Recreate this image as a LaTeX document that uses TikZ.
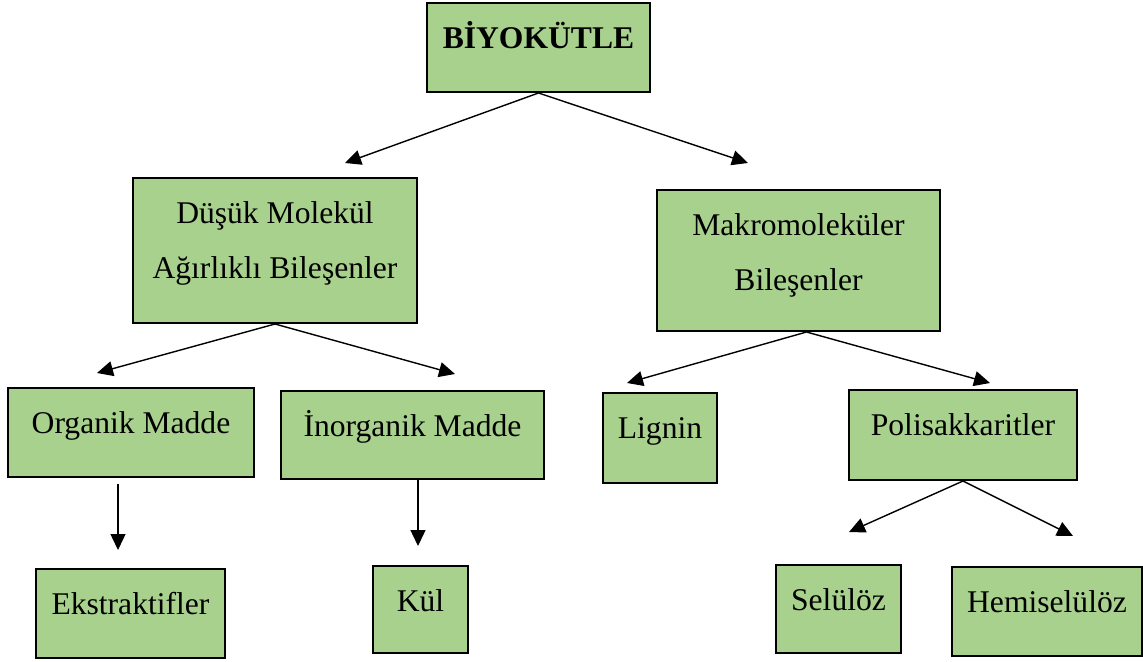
\documentclass[tikz,border=0pt]{standalone}
\usepackage{fontspec}
\setmainfont{Liberation Serif}
\usetikzlibrary{arrows.meta}
\definecolor{boxGreen}{HTML}{A9D18E}
\newcommand{\capstrut}{\rule{0pt}{15pt}}

\begin{document}
\begin{tikzpicture}[x=0.5pt,y=-0.5pt,
  kutu/.style={rectangle,draw=black,fill=boxGreen,line width=1pt,inner sep=0pt},
  yazi/.style={anchor=north,inner sep=0pt,align=center,yshift=-8pt,
    font=\fontsize{15.8}{27.5}\selectfont},
  ok/.style={draw=black,line width=0.7pt,-{Triangle[length=8pt,width=7.5pt]}}]
  \useasboundingbox (0,0) rectangle (1143,662);
  \node[kutu,minimum width=111.5pt,minimum height=44.5pt,
    label={[yazi]north:{\capstrut\textbf{BİYOKÜTLE}}}] (bio) at (538.5,47.5) {};
  \node[kutu,minimum width=142pt,minimum height=72.5pt,
    label={[yazi]north:{\capstrut Düşük Molekül\\Ağırlıklı Bileşenler}}] (duk) at (275,250.5) {};
  \node[kutu,minimum width=141.5pt,minimum height=70.5pt,
    label={[yazi]north:{\capstrut Makromoleküler\\Bileşenler}}] (makro) at (798.5,260.5) {};
  \node[kutu,minimum width=123pt,minimum height=44.5pt,
    label={[yazi]north:{\capstrut Organik Madde}}] (orga) at (131,432.5) {};
  \node[kutu,minimum width=131.5pt,minimum height=44pt,
    label={[yazi]north:{\capstrut İnorganik Madde}}] (inorg) at (412.5,435) {};
  \node[kutu,minimum width=57pt,minimum height=45pt,
    label={[yazi]north:{\capstrut Lignin}}] (lignin) at (660,438) {};
  \node[kutu,minimum width=114pt,minimum height=45pt,
    label={[yazi]north:{\capstrut Polisakkaritler}}] (polis) at (963,435) {};
  \node[kutu,minimum width=94.5pt,minimum height=44.5pt,
    label={[yazi]north:{\capstrut Ekstraktifler}}] (ekstr) at (130.5,613.5) {};
  \node[kutu,minimum width=47.5pt,minimum height=43.5pt,
    label={[yazi]north:{\capstrut Kül}}] (kul) at (420.5,609.5) {};
  \node[kutu,minimum width=62.5pt,minimum height=44pt,
    label={[yazi]north:{\capstrut Selülöz}}] (selu) at (838.5,609) {};
  \node[kutu,minimum width=95pt,minimum height=44.5pt,
    label={[yazi]north:{\capstrut Hemiselülöz}}] (hemi) at (1047,611.5) {};
  % ok uçları
  \coordinate (u1) at (345,163);
  \coordinate (u2) at (748,163);
  \coordinate (u3) at (97,373);
  \coordinate (u4) at (455,374);
  \coordinate (u5) at (627,383);
  \coordinate (u6) at (990,383);
  \coordinate (u7) at (118,550);
  \coordinate (u8) at (418,546);
  \coordinate (u9) at (849,532);
  \coordinate (u10) at (1073,536);
  \draw[ok] (bio.south) -- (u1);
  \draw[ok] (bio.south) -- (u2);
  \draw[ok] (duk.south) -- (u3);
  \draw[ok] (duk.south) -- (u4);
  \draw[ok] ([xshift=4pt]makro.south) -- (u5);
  \draw[ok] ([xshift=4pt]makro.south) -- (u6);
  \draw[ok] ([xshift=-6.5pt,yshift=-3pt]orga.south) -- (u7);
  \draw[ok] ([xshift=2.75pt]inorg.south) -- (u8);
  \draw[ok] (polis.south) -- (u9);
  \draw[ok] (polis.south) -- (u10);
\end{tikzpicture}
\end{document}
